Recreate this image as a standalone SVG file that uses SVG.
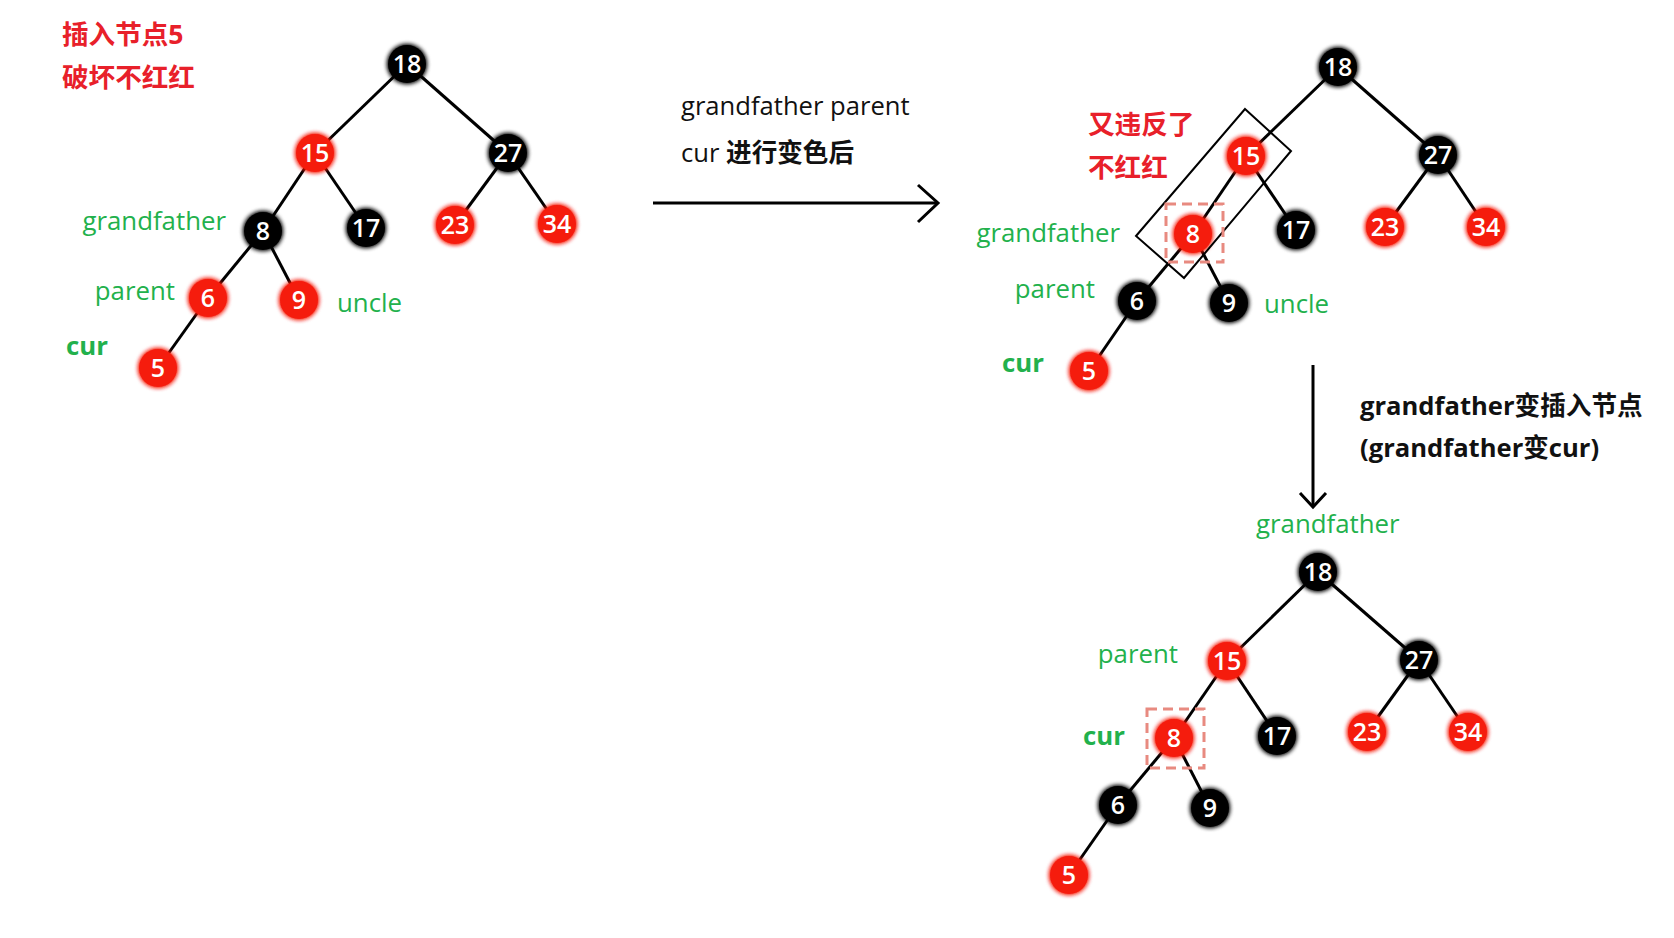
<svg xmlns="http://www.w3.org/2000/svg" width="1674" height="938" viewBox="0 0 1674 938">
<defs>
<filter id="glow" x="-50%" y="-50%" width="200%" height="200%">
<feGaussianBlur in="SourceGraphic" stdDeviation="2.5" result="b"/>
<feMerge><feMergeNode in="b"/><feMergeNode in="b"/><feMergeNode in="SourceGraphic"/></feMerge>
</filter>
<style>
.r{fill:#f51a0c;filter:url(#glow)}
.b{fill:#000;filter:url(#glow)}
.n{font-family:"Open Sans","Noto Sans CJK SC",sans-serif;font-size:25px;font-weight:600;fill:#fff;text-anchor:middle}
.e line{stroke:#000;stroke-width:3}
.g{font-family:"Open Sans","Noto Sans CJK SC",sans-serif;font-size:25.8px;font-weight:500;fill:#22b14c}
.gb{font-weight:700}
.rt{font-family:"Open Sans","Noto Sans CJK SC",sans-serif;font-size:26.6px;font-weight:700;fill:#e8202a}
.t{font-family:"Open Sans","Noto Sans CJK SC",sans-serif;font-size:25.6px;font-weight:500;fill:#111}
.bd{font-weight:700}
.ds{fill:none;stroke:#e88a80;stroke-width:3;stroke-dasharray:10 6}
.ar{fill:none;stroke:#000;stroke-width:3}
</style>
</defs>
<rect width="1674" height="938" fill="#fff"/>

<!-- texts -->
<text class="rt" x="62" y="44">插入节点5</text>
<text class="rt" x="62" y="87">破坏不红红</text>
<text class="rt" x="1088" y="134">又违反了</text>
<text class="rt" x="1088" y="177">不红红</text>

<text class="t" x="681" y="115">grandfather parent</text>
<text class="t" x="681" y="162">cur <tspan class="bd">进行变色后</tspan></text>
<text class="t bd" x="1360" y="415">grandfather变插入节点</text>
<text class="t bd" x="1360" y="457">(grandfather变cur)</text>

<!-- labels -->
<text class="g" x="226" y="230" text-anchor="end">grandfather</text>
<text class="g" x="175" y="300" text-anchor="end">parent</text>
<text class="g" x="337" y="312">uncle</text>
<text class="g gb" x="66" y="355">cur</text>

<text class="g" x="1120" y="242" text-anchor="end">grandfather</text>
<text class="g" x="1095" y="298" text-anchor="end">parent</text>
<text class="g" x="1264" y="313">uncle</text>
<text class="g gb" x="1002" y="372">cur</text>

<text class="g" x="1256" y="533">grandfather</text>
<text class="g" x="1178" y="663" text-anchor="end">parent</text>
<text class="g gb" x="1083" y="745">cur</text>

<!-- connectors -->
<g id="connectors">
<g class="e">
<line x1="407" y1="64" x2="315" y2="153"/>
<line x1="407" y1="64" x2="508" y2="153"/>
<line x1="315" y1="153" x2="263" y2="231"/>
<line x1="315" y1="153" x2="366" y2="228"/>
<line x1="508" y1="153" x2="455" y2="225"/>
<line x1="508" y1="153" x2="557" y2="224"/>
<line x1="263" y1="231" x2="208" y2="298"/>
<line x1="263" y1="231" x2="299" y2="300"/>
<line x1="208" y1="298" x2="158" y2="368"/>

<line x1="1338" y1="67" x2="1246" y2="156"/>
<line x1="1338" y1="67" x2="1438" y2="155"/>
<line x1="1246" y1="156" x2="1193" y2="234"/>
<line x1="1246" y1="156" x2="1296" y2="230"/>
<line x1="1438" y1="155" x2="1385" y2="227"/>
<line x1="1438" y1="155" x2="1486" y2="227"/>
<line x1="1193" y1="234" x2="1137" y2="301"/>
<line x1="1193" y1="234" x2="1229" y2="303"/>
<line x1="1137" y1="301" x2="1089" y2="371"/>

<line x1="1318" y1="572" x2="1227" y2="661"/>
<line x1="1318" y1="572" x2="1419" y2="660"/>
<line x1="1227" y1="661" x2="1174" y2="738"/>
<line x1="1227" y1="661" x2="1277" y2="736"/>
<line x1="1419" y1="660" x2="1367" y2="732"/>
<line x1="1419" y1="660" x2="1468" y2="732"/>
<line x1="1174" y1="738" x2="1118" y2="805"/>
<line x1="1174" y1="738" x2="1210" y2="808"/>
<line x1="1118" y1="805" x2="1069" y2="875"/>
</g>
<line class="ar" x1="653" y1="203" x2="937" y2="203"/>
<polyline class="ar" points="918,185 938,203 918,222"/>
<line class="ar" x1="1313" y1="365" x2="1313" y2="506"/>
<polyline class="ar" points="1300,493 1313,507 1326,493"/>
</g>

<!-- tree 1 -->
<g id="t1-18"><circle class="b" cx="407" cy="64" r="19"/><text class="n" x="407" y="73">18</text></g>
<g id="t1-15"><circle class="r" cx="315" cy="153" r="19"/><text class="n" x="315" y="162">15</text></g>
<g id="t1-27"><circle class="b" cx="508" cy="153" r="19"/><text class="n" x="508" y="162">27</text></g>
<g id="t1-8"><circle class="b" cx="263" cy="231" r="19"/><text class="n" x="263" y="240">8</text></g>
<g id="t1-17"><circle class="b" cx="366" cy="228" r="19"/><text class="n" x="366" y="237">17</text></g>
<g id="t1-23"><circle class="r" cx="455" cy="225" r="19"/><text class="n" x="455" y="234">23</text></g>
<g id="t1-34"><circle class="r" cx="557" cy="224" r="19"/><text class="n" x="557" y="233">34</text></g>
<g id="t1-6"><circle class="r" cx="208" cy="298" r="19"/><text class="n" x="208" y="307">6</text></g>
<g id="t1-9"><circle class="r" cx="299" cy="300" r="19"/><text class="n" x="299" y="309">9</text></g>
<g id="t1-5"><circle class="r" cx="158" cy="368" r="19"/><text class="n" x="158" y="377">5</text></g>

<!-- tree 2 -->
<g id="t2-18"><circle class="b" cx="1338" cy="67" r="19"/><text class="n" x="1338" y="76">18</text></g>
<g id="t2-15"><circle class="r" cx="1246" cy="156" r="19"/><text class="n" x="1246" y="165">15</text></g>
<g id="t2-27"><circle class="b" cx="1438" cy="155" r="19"/><text class="n" x="1438" y="164">27</text></g>
<g id="t2-8"><circle class="r" cx="1193" cy="234" r="19"/><text class="n" x="1193" y="243">8</text></g>
<g id="t2-17"><circle class="b" cx="1296" cy="230" r="19"/><text class="n" x="1296" y="239">17</text></g>
<g id="t2-23"><circle class="r" cx="1385" cy="227" r="19"/><text class="n" x="1385" y="236">23</text></g>
<g id="t2-34"><circle class="r" cx="1486" cy="227" r="19"/><text class="n" x="1486" y="236">34</text></g>
<g id="t2-6"><circle class="b" cx="1137" cy="301" r="19"/><text class="n" x="1137" y="310">6</text></g>
<g id="t2-9"><circle class="b" cx="1229" cy="303" r="19"/><text class="n" x="1229" y="312">9</text></g>
<g id="t2-5"><circle class="r" cx="1089" cy="371" r="19"/><text class="n" x="1089" y="380">5</text></g>
<g id="t2-box"><polygon points="1245,109 1291,151 1184,278 1136,236" fill="none" stroke="#000" stroke-width="2"/></g>
<g id="t2-dash"><rect class="ds" x="1166" y="204" width="57" height="58"/></g>

<!-- tree 3 -->
<g id="t3-18"><circle class="b" cx="1318" cy="572" r="19"/><text class="n" x="1318" y="581">18</text></g>
<g id="t3-15"><circle class="r" cx="1227" cy="661" r="19"/><text class="n" x="1227" y="670">15</text></g>
<g id="t3-27"><circle class="b" cx="1419" cy="660" r="19"/><text class="n" x="1419" y="669">27</text></g>
<g id="t3-8"><circle class="r" cx="1174" cy="738" r="19"/><text class="n" x="1174" y="747">8</text></g>
<g id="t3-17"><circle class="b" cx="1277" cy="736" r="19"/><text class="n" x="1277" y="745">17</text></g>
<g id="t3-23"><circle class="r" cx="1367" cy="732" r="19"/><text class="n" x="1367" y="741">23</text></g>
<g id="t3-34"><circle class="r" cx="1468" cy="732" r="19"/><text class="n" x="1468" y="741">34</text></g>
<g id="t3-6"><circle class="b" cx="1118" cy="805" r="19"/><text class="n" x="1118" y="814">6</text></g>
<g id="t3-9"><circle class="b" cx="1210" cy="808" r="19"/><text class="n" x="1210" y="817">9</text></g>
<g id="t3-5"><circle class="r" cx="1069" cy="875" r="19"/><text class="n" x="1069" y="884">5</text></g>
<g id="t3-dash"><rect class="ds" x="1147" y="709" width="57" height="59"/></g>
</svg>
